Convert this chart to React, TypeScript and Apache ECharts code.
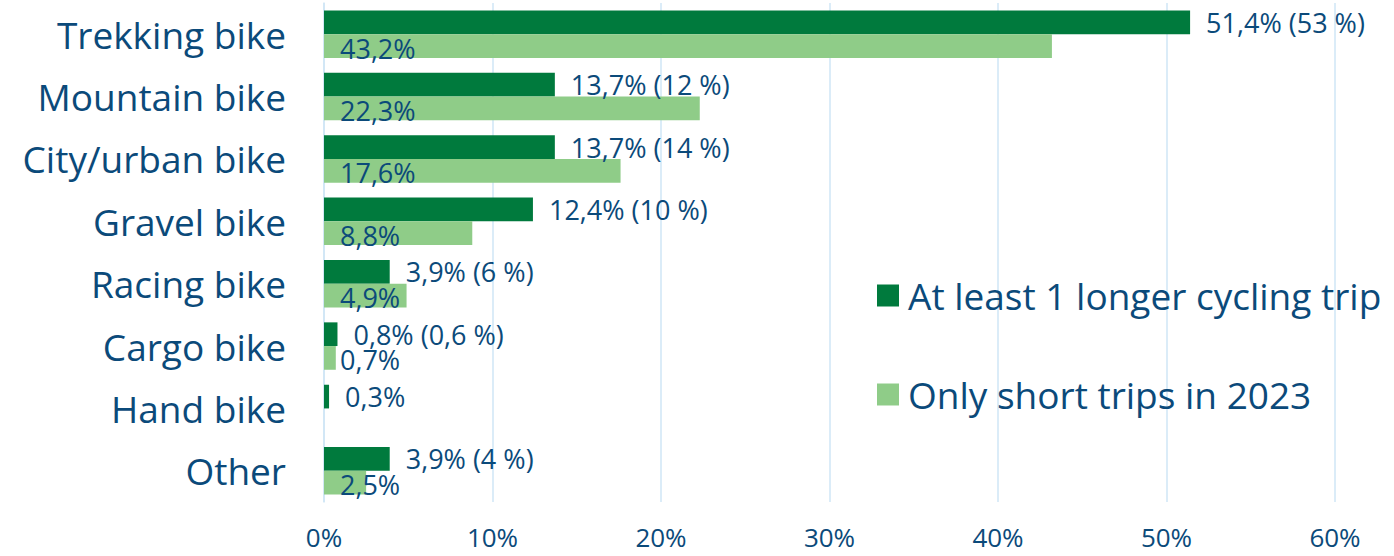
import React, { useEffect, useRef } from "react";
import * as echarts from "echarts";

const categories = [
  "Trekking bike",
  "Mountain bike",
  "City/urban bike",
  "Gravel bike",
  "Racing bike",
  "Cargo bike",
  "Hand bike",
  "Other",
];
const longerTrip = [51.4, 13.7, 13.7, 12.4, 3.9, 0.8, 0.3, 3.9];
const longerTripPrev: (number | null)[] = [53, 12, 14, 10, 6, 0.6, null, 4];
const shortTrips: (number | null)[] = [43.2, 22.3, 17.6, 8.8, 4.9, 0.7, null, 2.5];
const seriesNames = ["At least 1 longer cycling trip", "Only short trips in 2023"];
const xTicks = [0, 10, 20, 30, 40, 50, 60];

const DARK = "#007a3d";
const LIGHT = "#8fcc88";
const TEXT = "#0b4a7a";
const FONT = "Open Sans";

const fmt = (v: number) => v.toString().replace(".", ",");

export default function App() {
  const ref = useRef<HTMLDivElement>(null);
  useEffect(() => {
    document.body.style.margin = "0";
    const chart = echarts.init(ref.current!, undefined, { renderer: "svg" });
    chart.setOption({
      animation: false,
      textStyle: { fontFamily: FONT, color: TEXT },
      grid: { left: 324, right: 59, top: 3, bottom: 54, containLabel: false },
      legend: {
        orient: "vertical",
        left: 872,
        top: 272,
        itemWidth: 22,
        itemHeight: 22,
        itemGap: 62,
        icon: "rect",
        textStyle: { fontSize: 37, color: TEXT, fontFamily: FONT, padding: [0, 0, 0, 4] },
        data: seriesNames,
      },
      xAxis: {
        type: "value",
        min: xTicks[0],
        max: xTicks[xTicks.length - 1],
        interval: 10,
        axisLine: { show: false },
        axisTick: { show: false },
        splitLine: { show: true, lineStyle: { color: "#cfe6f6", width: 1.5 } },
        axisLabel: {
          formatter: (v: number) => `${v}%`,
          fontSize: 26,
          color: TEXT,
          margin: 22,
          fontFamily: FONT,
        },
      },
      yAxis: {
        type: "category",
        inverse: true,
        data: categories,
        axisLine: { show: true, lineStyle: { color: "#cfe6f6", width: 1.5 } },
        axisTick: { show: false },
        axisLabel: { fontSize: 37, color: TEXT, margin: 38, fontFamily: FONT, padding: [0, 0, 4, 0] },
      },
      series: [
        {
          name: seriesNames[0],
          type: "bar",
          data: longerTrip,
          itemStyle: { color: DARK },
          barGap: "0%",
          barCategoryGap: "24%",
          label: {
            show: true,
            position: "right",
            distance: 16,
            fontSize: 27,
            color: TEXT,
            fontFamily: FONT,
            formatter: (p: any) => {
              const prev = longerTripPrev[p.dataIndex];
              return prev == null ? `${fmt(p.value)}%` : `${fmt(p.value)}% (${fmt(prev)} %)`;
            },
          },
        },
        {
          name: seriesNames[1],
          type: "bar",
          data: shortTrips,
          itemStyle: { color: LIGHT },
          barGap: "0%",
          barCategoryGap: "24%",
          label: {
            show: true,
            position: "insideLeft",
            distance: 16,
            offset: [0, 2],
            fontSize: 27,
            color: TEXT,
            fontFamily: FONT,
            formatter: (p: any) => `${fmt(p.value)}%`,
          },
        },
      ],
    });
    return () => chart.dispose();
  }, []);
  return <div ref={ref} style={{ width: 1394, height: 556 }} />;
}
